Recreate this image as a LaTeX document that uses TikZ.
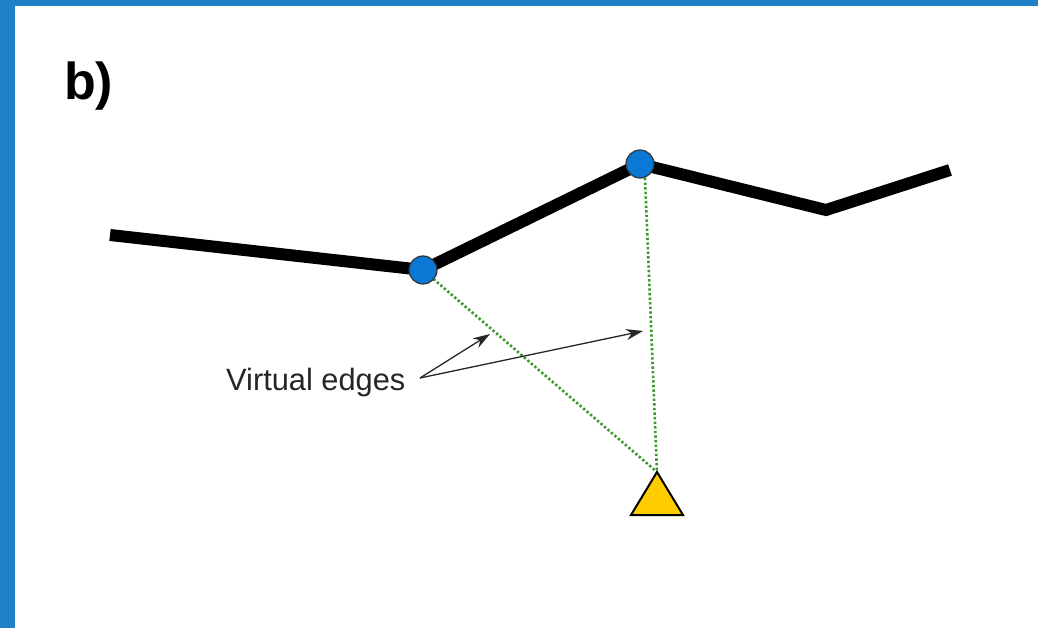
\documentclass[tikz,border=0pt]{standalone}
\usepackage{fontspec}
\setmainfont{Liberation Sans}
\usetikzlibrary{arrows.meta}
\definecolor{frameblue}{HTML}{2080C8}
\definecolor{nodeblue}{HTML}{0A78D4}
\definecolor{tri}{HTML}{FFCC00}
\definecolor{vgreen}{HTML}{3A9A2A}
\tikzset{
  road/.style={line width=12pt, line join=miter, black},
  vnode/.style={circle, fill=nodeblue, draw=black!80, line width=1.2pt, minimum size=28pt, inner sep=0pt},
  virt/.style={vgreen, line width=2.6pt, dash pattern=on 2.4pt off 2.2pt},
  pointer/.style={black!85, line width=1.3pt, -{Stealth[length=17pt,width=11pt]}},
}
\begin{document}
\begin{tikzpicture}[x=1pt,y=-1pt]
\useasboundingbox (0,0) rectangle (1038,628);
\fill[white] (0,0) rectangle (1038,628);
\fill[frameblue] (0,0) rectangle (1038,6);
\fill[frameblue] (0,0) rectangle (15,628);
\node[anchor=base west, inner sep=0pt, font=\fontsize{52}{60}\selectfont\bfseries] (lbl) at (64,100) {b)};
\coordinate (p0) at (110,235);
\coordinate (p3) at (826,210);
\coordinate (p4) at (950,170);
\coordinate (q1) at (423,270);
\coordinate (q2) at (640,164);
\draw[road] (p0) -- (q1) -- (q2) -- (p3) -- (p4);
\coordinate (apex) at (657,472);
\draw[virt] (q1) -- (apex);
\draw[virt] (q2) ++(5,14) -- (apex);
\node[vnode] (n1) at (q1) {};
\node[vnode] (n2) at (q2) {};
\fill[tri, draw=black, line width=2pt, line join=miter] (657,472) -- (683,515) -- (631,515) -- cycle;
\node[anchor=base west, inner sep=0pt, font=\fontsize{30.8}{34}\selectfont, text=black!85] (ve) at (226,390) {Virtual edges};
\coordinate (src) at (420,378);
\coordinate (t1) at (490,334);
\coordinate (t2) at (643,331);
\draw[pointer] (src) -- (t1);
\draw[pointer] (src) -- (t2);
\end{tikzpicture}
\end{document}
